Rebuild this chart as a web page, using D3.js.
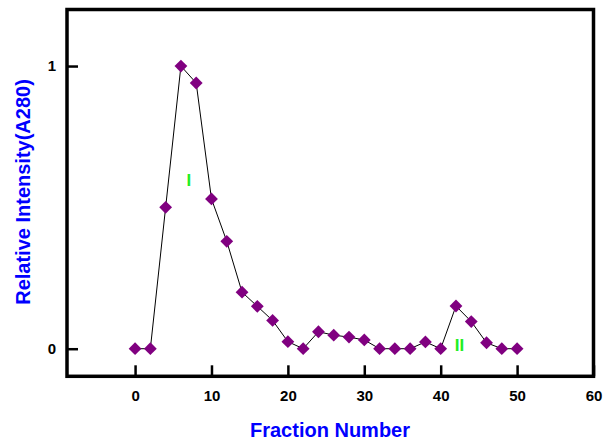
<!DOCTYPE html>
<html>
<head>
<meta charset="utf-8">
<script src="https://cdn.jsdelivr.net/npm/d3@7"></script>
<style>
  html, body { margin: 0; padding: 0; background: #fff; }
  svg { display: block; }
</style>
</head>
<body>
<svg id="chart" width="609" height="441"></svg>
<script>
const fractions = [0, 2, 4, 6, 8, 10, 12, 14, 16, 18, 20, 22, 24, 26, 28, 30, 32, 34, 36, 38, 40, 42, 44, 46, 48, 50];
const intensity = [0, 0, 0.50, 1.0, 0.94, 0.53, 0.38, 0.20, 0.15, 0.10, 0.025, 0, 0.06, 0.048, 0.041, 0.031, 0, 0, 0, 0.024, 0, 0.151, 0.096, 0.021, 0, 0];
const xTicks = [0, 10, 20, 30, 40, 50, 60];
const yTicks = [0, 1];
const peakLabels = ["I", "II"];
const peakX = [7.05, 42.45];
const peakY = [0.577, -0.008];

const svg = d3.select("#chart");
const x = d3.scaleLinear().domain([-8.91, 60]).range([67, 593.5]);
const y = d3.scaleLinear().domain([-0.0976, 1.2]).range([376.3, 9.5]);

// frame
svg.append("rect")
  .attr("x", x.range()[0]).attr("y", y.range()[1])
  .attr("width", x.range()[1] - x.range()[0])
  .attr("height", y.range()[0] - y.range()[1])
  .attr("fill", "none").attr("stroke", "#000").attr("stroke-width", 3.5);

// x axis
const xAxis = d3.axisBottom(x).tickValues(xTicks).tickFormat(d3.format("d")).tickSizeInner(-11).tickSizeOuter(0).tickPadding(14);
const gx = svg.append("g").attr("transform", `translate(0,${y.range()[0]})`).call(xAxis);
gx.select(".domain").remove();
gx.selectAll(".tick line").attr("stroke", "#000").attr("stroke-width", 2.5);
gx.selectAll(".tick text")
  .attr("font-family", "Liberation Sans, Arial, sans-serif")
  .attr("font-weight", "bold").attr("font-size", 15).attr("fill", "#000");

// y axis
const yAxis = d3.axisLeft(y).tickValues(yTicks).tickFormat(d3.format("d")).tickSizeInner(-11).tickSizeOuter(0).tickPadding(11);
const gy = svg.append("g").attr("transform", `translate(${x.range()[0]},0)`).call(yAxis);
gy.select(".domain").remove();
gy.selectAll(".tick line").attr("stroke", "#000").attr("stroke-width", 2.5);
gy.selectAll(".tick text")
  .attr("font-family", "Liberation Sans, Arial, sans-serif")
  .attr("font-weight", "bold").attr("font-size", 15).attr("fill", "#000");

// line
const data = fractions.map((f, i) => ({ f, v: intensity[i] }));
svg.append("path")
  .datum(data)
  .attr("fill", "none").attr("stroke", "#000").attr("stroke-width", 1)
  .attr("d", d3.line().x(d => x(d.f)).y(d => y(d.v)));

// markers
const diamond = d3.symbol().type(d3.symbolSquare).size(82);
svg.selectAll("path.pt").data(data).enter().append("path")
  .attr("class", "pt")
  .attr("d", diamond)
  .attr("transform", d => `translate(${x(d.f)},${y(d.v)}) rotate(45)`)
  .attr("fill", "#800080");

// peak labels
svg.selectAll("text.peak").data(peakLabels).enter().append("text")
  .attr("class", "peak")
  .attr("x", (d, i) => x(peakX[i])).attr("y", (d, i) => y(peakY[i]))
  .attr("text-anchor", "middle")
  .attr("font-family", "Liberation Sans, Arial, sans-serif")
  .attr("font-weight", "bold").attr("font-size", 17)
  .attr("fill", "#22ee22")
  .text(d => d);

// axis titles
svg.append("text")
  .attr("x", 330).attr("y", 437)
  .attr("text-anchor", "middle")
  .attr("font-family", "Liberation Sans, Arial, sans-serif")
  .attr("font-weight", "bold").attr("font-size", 20)
  .attr("fill", "#0000ff")
  .text("Fraction Number");

svg.append("text")
  .attr("transform", "translate(30,192) rotate(-90)")
  .attr("text-anchor", "middle")
  .attr("font-family", "Liberation Sans, Arial, sans-serif")
  .attr("font-weight", "bold").attr("font-size", 20)
  .attr("fill", "#0000ff")
  .text("Relative Intensity(A280)");
</script>
</body>
</html>
